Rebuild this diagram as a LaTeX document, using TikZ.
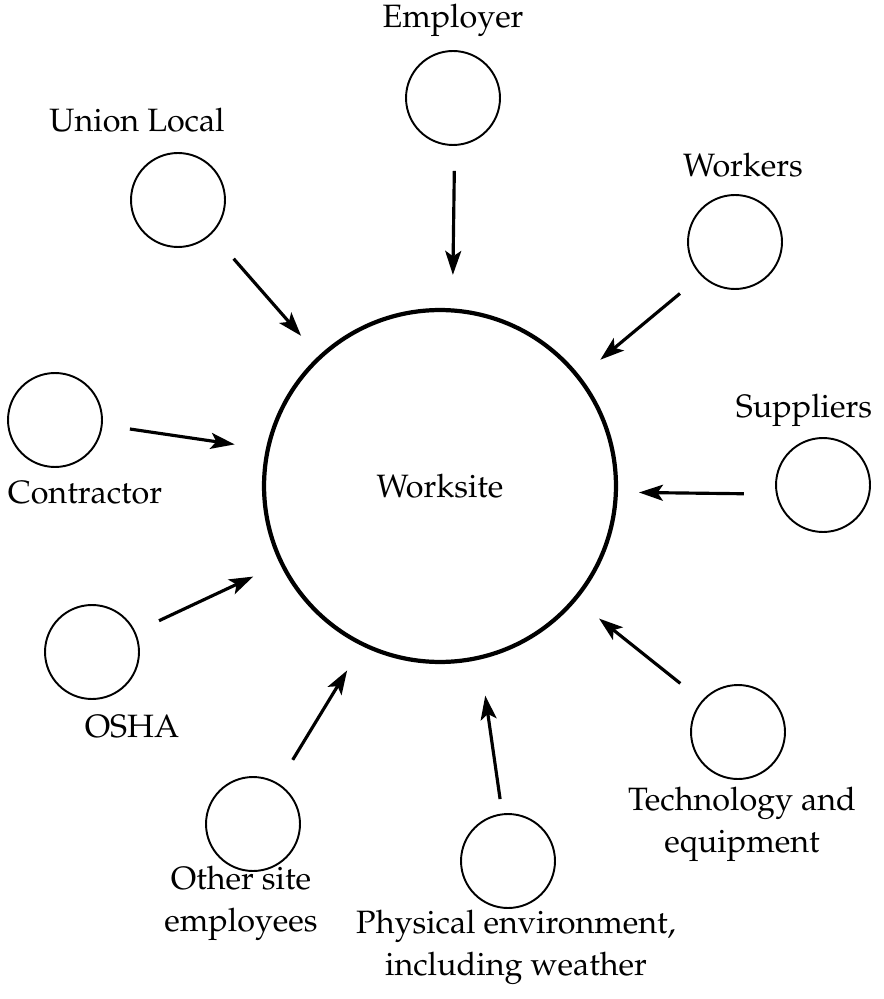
\documentclass[tikz,border=0pt]{standalone}
\usepackage[T1]{fontenc}
\usepackage{mathpazo}
\usepackage{tikz}
\usetikzlibrary{arrows.meta}
\usetikzlibrary{positioning}

\tikzset{
  party/.style={draw,circle,line width=1.1pt,minimum size=1.88cm,inner sep=0pt},
  site/.style={draw,circle,line width=2.4pt,minimum size=7.04cm,inner sep=0pt},
  lbl/.style={align=center,inner sep=0pt,font=\fontsize{18.4}{24}\selectfont},
  arr/.style={line width=1.8pt,-{Stealth[length=0.48cm,width=0.32cm,inset=0.11cm]}}
}

\begin{document}
\begin{tikzpicture}[x=0.02cm,y=-0.02cm]

\useasboundingbox (0,0) rectangle (884,999);

% centre
\node[site,lbl] (worksite) at (440,486) {Worksite};

% parties round the site
\node[party] (employer)   at (453,98)  {};
\node[party] (union)      at (178,200) {};
\node[party] (workers)    at (735,242) {};
\node[party] (contractor) at (55,420)  {};
\node[party] (suppliers)  at (823,485) {};
\node[party] (osha)       at (92,652)  {};
\node[party] (other)      at (253,824) {};
\node[party] (physical)   at (508,861) {};
\node[party] (tech)       at (738,732) {};

% labels
\node[lbl] (employer-l)   at (453,20)  {Employer};
\node[lbl] (union-l)      at (137,120) {Union Local};
\node[lbl] (workers-l)    at (743,165) {Workers};
\node[lbl] (contractor-l) at (85,493)  {Contractor};
\node[lbl] (suppliers-l)  at (804,410) {Suppliers};
\node[lbl] (osha-l)       at (132,727) {OSHA};
\node[lbl] (other-l)      at (241,903) {Other site\\employees};
\node[lbl] (physical-l)   at (516,947) {Physical environment,\\including weather};
\node[lbl] (tech-l)       at (742,824) {Technology and\\equipment};

% arrows into the site
\draw[arr,shorten <=0.50cm,shorten >=0.67cm] (employer.-88)   -- (worksite.86);
\draw[arr,shorten <=0.66cm,shorten >=0.53cm] (union.-45)      -- (worksite.133);
\draw[arr,shorten <=0.55cm,shorten >=0.52cm] (workers.-135)   -- (worksite.38);
\draw[arr,shorten <=0.55cm,shorten >=0.63cm] (contractor.-6)  -- (worksite.168);
\draw[arr,shorten <=0.64cm,shorten >=0.42cm] (suppliers.-169) -- (worksite.-2.6);
\draw[arr,shorten <=0.52cm,shorten >=0.59cm] (osha.25)        -- (worksite.-154);
\draw[arr,shorten <=0.55cm,shorten >=0.57cm] (other.58)       -- (worksite.-116);
\draw[arr,shorten <=0.29cm,shorten >=0.73cm] (physical.97)    -- (worksite.-77);
\draw[arr,shorten <=0.55cm,shorten >=0.58cm] (tech.139)       -- (worksite.-40);

\end{tikzpicture}
\end{document}
